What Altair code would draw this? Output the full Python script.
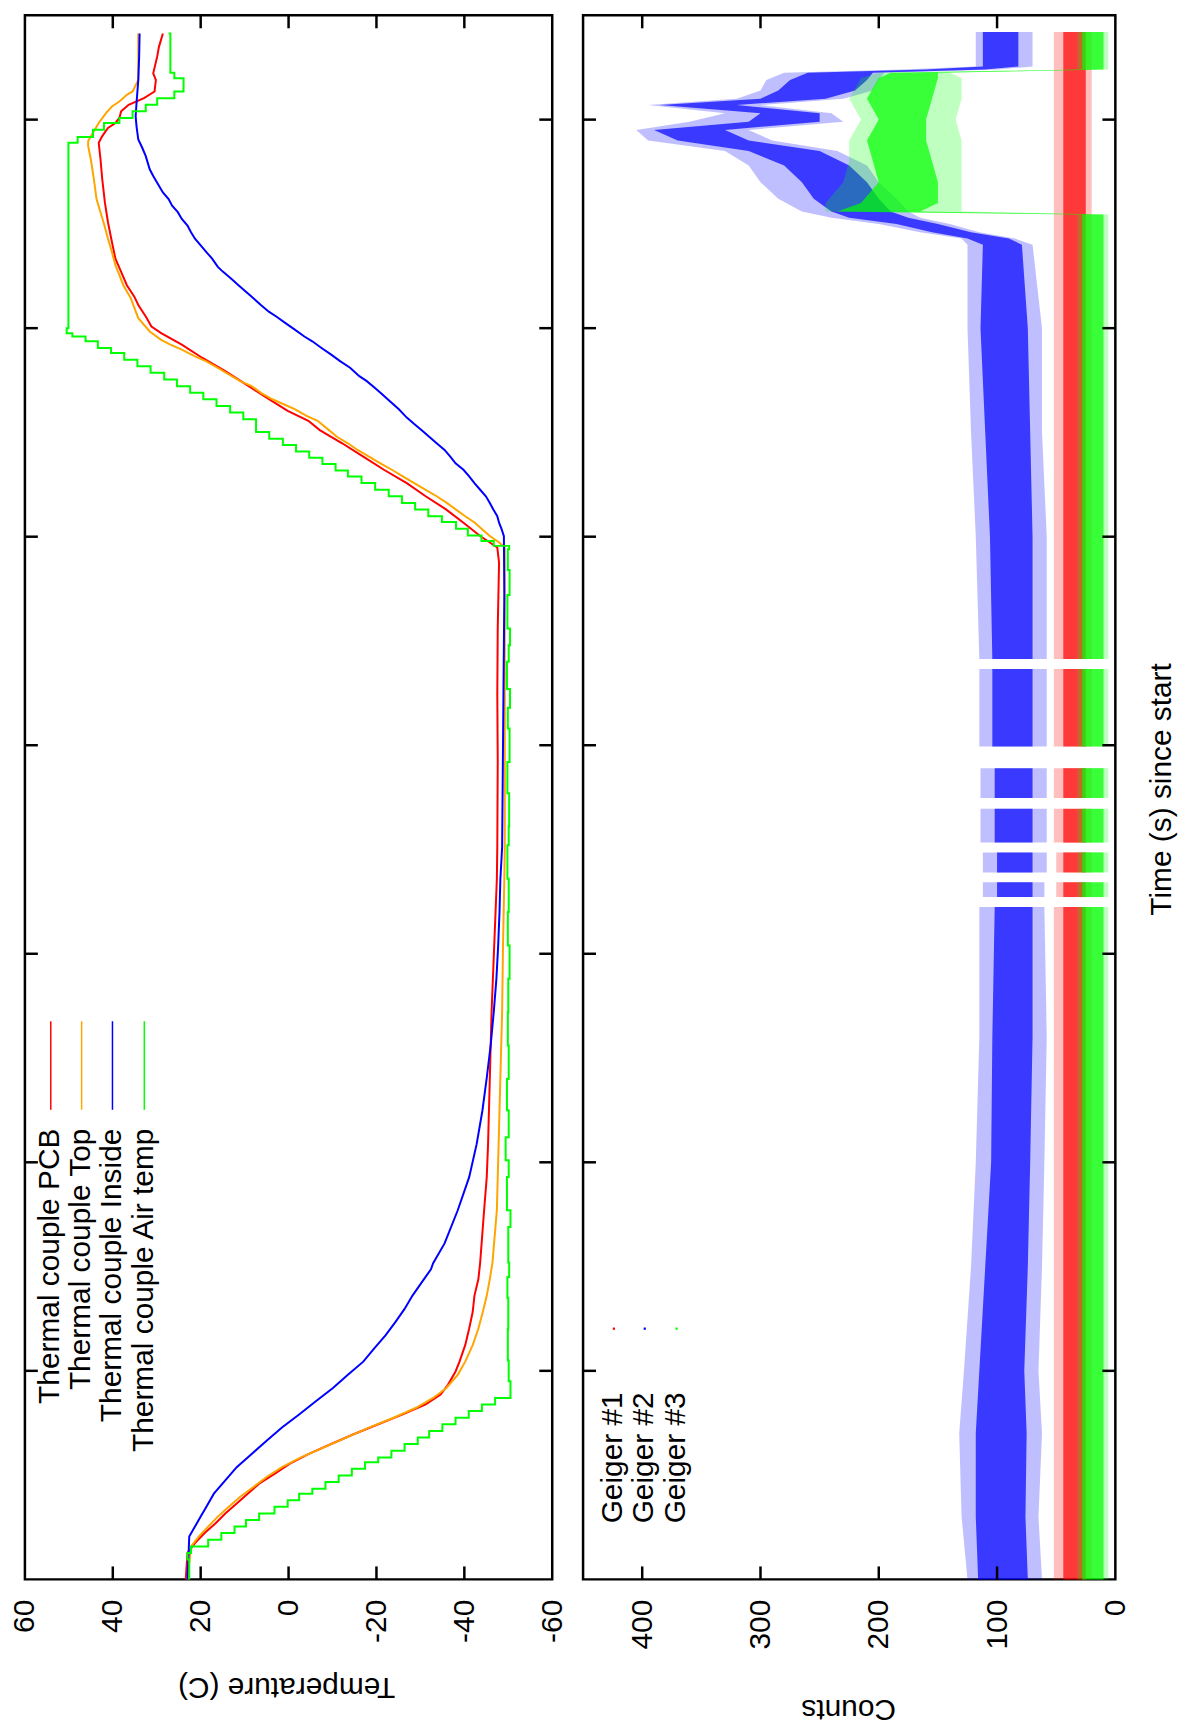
import altair as alt
import pandas as pd

# ---------------- tick values / labels ----------------
TIME_TICKS = [10000, 20000, 30000, 40000, 50000, 60000, 70000]
TEMP_TICKS = [-40, -20, 0, 20, 40]
TEMP_LABELS = [60, 40, 20, 0, -20, -40, -60]
COUNT_TICKS = [100, 200, 300, 400]
COUNT_LABELS = [400, 300, 200, 100, 0]

TEMP_NAMES = ["Thermal couple PCB", "Thermal couple Top", "Thermal couple Inside", "Thermal couple Air temp"]
TEMP_COLORS = ["#ff0000", "#ffa500", "#0000ff", "#00ff00"]
GEIGER_NAMES = ["Geiger #1", "Geiger #2", "Geiger #3"]
GEIGER_COLORS = ["#ff0000", "#0000ff", "#00ff00"]

# ---------------- temperature series (time s, deg C) ----------------
PCB = [(0, 23.4), (1270, 23.0), (1740, 21.3), (2220, 19.1), (2690, 16.6), (3160, 14.4), (3640, 11.8),
       (4110, 9.3), (4590, 6.7), (5060, 3.2), (5540, -0.2), (6010, -4.5), (6490, -9.7), (6960, -14.8),
       (7440, -20.4), (7910, -26.0), (8390, -31.2), (8860, -34.6), (9340, -36.3), (9970, -38.0),
       (10440, -38.9), (11230, -40.2), (12030, -41.1), (12820, -41.9), (13610, -42.3), (14400, -43.2),
       (15190, -43.6), (17700, -44.5), (19290, -45.1), (20870, -45.4), (24050, -45.8), (27220, -46.2),
       (30400, -46.8), (33570, -47.4), (35160, -47.5), (39240, -47.6), (42410, -47.5), (45590, -47.6),
       (48760, -47.9), (49480, -47.5), (50030, -43.6), (50670, -39.8), (51300, -35.9), (51940, -31.2),
       (52570, -26.9), (53210, -21.7), (53840, -17.0), (54480, -12.2), (55110, -7.1), (55560, -4.5),
       (56030, 0.2), (56670, 5.0), (57300, 9.7), (57940, 14.4), (58570, 19.6), (59210, 24.3),
       (59760, 29.0), (60080, 31.2), (60560, 32.5), (61110, 34.2), (61510, 35.1), (62060, 36.8),
       (62700, 38.1), (63330, 39.4), (64130, 40.2), (65080, 41.1), (66030, 41.8), (67140, 42.4),
       (68100, 42.8), (68890, 43.2), (69210, 42.4), (69600, 41.1), (69840, 39.4), (70080, 38.5),
       (70400, 38.1), (70710, 36.4), (71030, 32.9), (71350, 30.5), (71900, 30.2), (72220, 30.8),
       (73020, 29.9), (73490, 29.5), (74130, 28.6)]

TOP = [(0, 23.0), (1580, 22.2), (2060, 20.4), (2530, 18.3), (3010, 16.1), (3480, 13.6), (3960, 11.0),
       (4430, 8.0), (4910, 5.0), (5380, 1.5), (5850, -2.8), (6330, -8.0), (6800, -13.1), (7280, -18.3),
       (7750, -23.9), (8230, -29.0), (8700, -32.9), (9180, -35.9), (9810, -38.5), (10440, -40.2),
       (11230, -41.9), (12030, -43.2), (12820, -44.2), (13610, -45.1), (14400, -45.8), (15190, -46.4),
       (17700, -47.4), (20870, -47.8), (24050, -48.2), (27220, -48.6), (30400, -48.8), (33570, -49.1),
       (35160, -49.2), (42410, -49.2), (49480, -49.2), (49710, -48.0), (50030, -45.8), (50350, -44.1),
       (50670, -42.4), (50980, -40.2), (51300, -38.1), (51620, -36.0), (51940, -33.7), (52250, -31.2),
       (52570, -28.6), (52890, -26.0), (53210, -23.5), (53520, -20.9), (53840, -18.3), (54160, -15.7),
       (54480, -13.5), (54790, -11.0), (55110, -9.2), (55560, -6.6), (55790, -4.1), (56110, -1.5),
       (56350, 1.1), (56590, 3.7), (56900, 6.3), (57220, 8.4), (57460, 11.0), (57780, 13.6),
       (58100, 16.1), (58410, 18.7), (58650, 21.3), (58970, 24.3), (59210, 26.9), (59440, 29.0),
       (59840, 31.6), (60480, 34.2), (61430, 35.9), (62060, 37.6), (62540, 38.5), (63020, 39.4),
       (63650, 40.2), (64290, 41.1), (64920, 41.9), (65560, 42.8), (66190, 43.7), (67140, 44.3),
       (68100, 45.0), (68730, 45.6), (68970, 45.6), (69520, 44.1), (69840, 43.2), (70320, 41.5),
       (70630, 40.2), (70870, 38.5), (71190, 36.8), (71350, 35.5), (71900, 34.2), (74130, 34.2)]

INSIDE = [(0, 23.0), (2060, 22.6), (2530, 21.3), (3010, 20.0), (3480, 18.7), (4110, 17.0), (4750, 14.4),
          (5380, 11.8), (6010, 8.4), (6650, 5.0), (7280, 1.5), (7910, -2.4), (8540, -6.2), (9180, -10.1),
          (9810, -13.5), (10440, -17.0), (11080, -19.5), (11710, -22.1), (12340, -24.3), (12970, -26.4),
          (13610, -28.2), (14240, -30.3), (14870, -32.4), (15160, -32.9), (16110, -35.5), (17700, -38.5),
          (19290, -41.1), (20870, -42.8), (22460, -44.1), (24050, -45.1), (25630, -46.0), (27220, -46.7),
          (28810, -47.3), (30400, -47.7), (31980, -48.0), (33570, -48.2), (35110, -48.6), (42410, -48.9),
          (47170, -49.1), (50030, -49.0), (50350, -48.5), (50670, -47.9), (50980, -47.5), (51300, -46.6),
          (51620, -45.8), (51940, -44.9), (52250, -43.6), (52570, -42.3), (52890, -41.1), (53210, -39.8),
          (53520, -38.0), (53840, -36.8), (54160, -35.5), (54480, -33.7), (54790, -32.0), (55110, -30.3),
          (55400, -28.6), (55710, -26.9), (56110, -25.1), (56510, -23.0), (56830, -21.3), (57140, -19.6),
          (57460, -17.8), (57700, -16.1), (58100, -14.0), (58410, -11.8), (58730, -9.7), (59050, -7.5),
          (59370, -5.4), (59600, -3.6), (59920, -1.5), (60240, 0.7), (60560, 2.8), (60790, 4.5),
          (61110, 6.3), (61430, 8.0), (61750, 9.7), (62060, 11.4), (62380, 13.1), (62700, 14.9),
          (62940, 16.1), (63330, 17.4), (63650, 18.7), (63970, 20.0), (64290, 21.3), (64600, 22.2),
          (64920, 23.0), (65240, 24.3), (65560, 25.2), (65870, 26.5), (66190, 27.3), (66510, 28.6),
          (66830, 29.5), (67300, 30.8), (67620, 31.6), (68250, 32.5), (68650, 33.3), (69050, 34.2),
          (69680, 34.6), (70160, 34.8), (70790, 34.6), (71900, 34.2), (73020, 34.0), (74130, 33.9)]

AIR = [(0, 22.6), (950, 23.0), (1270, 22.2), (1580, 18.3), (1900, 15.3), (2220, 12.3), (2530, 9.7),
       (2850, 6.7), (3160, 3.2), (3480, 0.2), (3800, -2.4), (4110, -5.4), (4350, -8.4), (4670, -11.4),
       (4980, -14.4), (5300, -17.4), (5620, -20.4), (5850, -23.4), (6170, -26.4), (6490, -29.4),
       (6800, -32.0), (7120, -35.0), (7440, -38.0), (7750, -41.0), (8070, -44.0), (8390, -47.0),
       (8700, -50.5), (9500, -50.1), (10500, -49.9), (12000, -50.0), (13500, -49.8), (14500, -50.2),
       (15200, -50.0), (16900, -50.5), (17700, -49.7), (19300, -50.1), (20100, -49.4), (21200, -50.1),
       (22500, -49.7), (24000, -50.1), (25600, -49.9), (27200, -50.0), (28800, -50.3), (30400, -49.9),
       (32000, -50.1), (33600, -49.8), (35200, -50.1), (36100, -50.2), (37700, -49.8), (39200, -50.3),
       (40800, -49.9), (41800, -50.4), (42700, -49.7), (44000, -50.1), (44800, -50.4), (45600, -49.8),
       (47200, -50.3), (48400, -49.9), (49400, -50.2), (49560, -46.7), (49790, -43.9), (50060, -40.8),
       (50380, -38.1), (50700, -34.9), (50980, -31.8), (51300, -28.8), (51620, -25.8), (51940, -22.8),
       (52250, -19.7), (52570, -16.6), (52890, -13.5), (53170, -10.7), (53490, -7.7), (53790, -4.7),
       (54080, -1.7), (54400, 1.3), (54700, 4.4), (55020, 7.4), (55630, 10.3), (55950, 13.3),
       (56270, 16.4), (56590, 19.4), (56900, 22.4), (57220, 25.4), (57540, 28.3), (57860, 31.4),
       (58170, 34.4), (58490, 37.4), (58810, 40.4), (59050, 43.4), (59370, 46.2), (59600, 49.2),
       (59760, 50.5), (60000, 50.1), (68890, 48.0), (69170, 44.5), (69520, 42.0), (69840, 38.5),
       (70080, 35.5), (70400, 32.5), (70710, 29.9), (71030, 26.0), (71350, 23.9), (71980, 26.0),
       (72250, 26.9), (74130, 27.3)]

# ---------------- Geiger count clouds, read as envelopes ----------------
# (segment, time s, outer low, outer high, dense low, dense high)
RED_BAND = [(1, 0, 20, 52, 25, 44), (1, 32240, 20, 52, 25, 44),
            (2, 32720, 20, 50, 25, 44), (2, 33430, 20, 50, 25, 44),
            (3, 33900, 20, 50, 25, 44), (3, 34860, 20, 50, 25, 44),
            (4, 35330, 20, 52, 25, 44), (4, 36950, 20, 52, 25, 44),
            (5, 37470, 20, 52, 25, 44), (5, 38900, 20, 52, 25, 44),
            (6, 39940, 20, 52, 25, 44), (6, 43650, 20, 52, 25, 44),
            (7, 44130, 20, 52, 25, 44), (7, 74200, 20, 52, 25, 44)]

BLUE_BAND = [(1, 0, 62, 125, 74, 116), (1, 3000, 65, 130, 76, 118), (1, 7000, 62, 132, 75, 118),
             (1, 10000, 65, 128, 77, 115), (1, 15000, 62, 122, 74, 110), (1, 20000, 60, 118, 72, 105),
             (1, 26000, 58, 115, 70, 104), (1, 32240, 60, 115, 70, 102),
             (2, 32720, 60, 112, 70, 100), (2, 33430, 60, 112, 70, 100),
             (3, 33900, 58, 112, 70, 100), (3, 34860, 58, 112, 70, 100),
             (4, 35330, 58, 114, 70, 102), (4, 36950, 58, 114, 70, 102),
             (5, 37470, 58, 114, 70, 102), (5, 38900, 58, 114, 70, 102),
             (6, 39940, 58, 115, 70, 104), (6, 43650, 58, 115, 70, 104),
             (7, 44130, 58, 115, 70, 104), (7, 50000, 58, 118, 70, 106), (7, 55000, 62, 122, 72, 110),
             (7, 60000, 62, 125, 74, 114), (7, 64000, 70, 125, 79, 112), (7, 64300, 85, 130, 90, 125),
             (7, 64600, 115, 165, 122, 155), (7, 65000, 140, 200, 150, 185), (7, 65300, 165, 240, 175, 225),
             (7, 65600, 175, 265, 190, 240), (7, 66200, 185, 285, 200, 255), (7, 67000, 200, 300, 210, 265),
             (7, 67800, 210, 310, 225, 280), (7, 68500, 235, 330, 250, 310), (7, 69000, 290, 395, 310, 370),
             (7, 69500, 310, 405, 330, 390), (7, 69900, 230, 360, 250, 310), (7, 70300, 240, 330, 250, 300),
             (7, 70700, 300, 395, 320, 385), (7, 71000, 230, 320, 245, 300), (7, 71400, 205, 300, 220, 285),
             (7, 71900, 200, 295, 210, 275), (7, 72250, 195, 280, 205, 260), (7, 72400, 100, 180, 110, 160),
             (7, 72550, 70, 118, 82, 112), (7, 74200, 70, 118, 82, 112)]

GREEN_BAND = [(1, 0, 6, 32, 10, 28), (1, 32240, 6, 32, 10, 28),
              (2, 32720, 6, 32, 10, 28), (2, 33430, 6, 32, 10, 28),
              (3, 33900, 6, 32, 10, 28), (3, 34860, 6, 32, 10, 28),
              (4, 35330, 6, 32, 10, 28), (4, 36950, 6, 32, 10, 28),
              (5, 37470, 6, 32, 10, 28), (5, 38900, 6, 32, 10, 28),
              (6, 39940, 6, 32, 10, 28), (6, 43650, 6, 32, 10, 28),
              (7, 44130, 6, 32, 10, 28), (7, 65450, 6, 32, 10, 28), (7, 65600, 130, 245, 165, 235),
              (7, 66000, 130, 245, 150, 215), (7, 67000, 130, 230, 150, 200), (7, 68000, 130, 225, 155, 205),
              (7, 69000, 130, 225, 160, 210), (7, 70000, 135, 215, 160, 200), (7, 71000, 130, 225, 155, 210),
              (7, 72000, 130, 215, 150, 200), (7, 72250, 140, 200, 150, 190), (7, 72400, 6, 32, 10, 28),
              (7, 74200, 6, 32, 10, 28)]

# ---------------- layout ----------------
W1, W2, H = 530, 535, 1572
TICK = 13
FONT = "Liberation Sans"
FS = 30
ONE = alt.Data(values=[{"k": 0}])

tscale = alt.Scale(domain=[0, 75000], nice=False, zero=False)
temp_scale = alt.Scale(domain=[-60, 60], reverse=True, nice=False, zero=False)
cnt_scale = alt.Scale(domain=[0, 450], reverse=True, nice=False)


def x_axis(values):
    return alt.Axis(values=values, labelAngle=270, labelAlign="right", labelBaseline="middle",
                    labelPadding=20, ticks=False, domain=False, grid=False, title=None,
                    labelFont=FONT, labelFontSize=FS, labelColor="black", labelFlush=False,
                    labelOverlap=False, labelExpr="'' + datum.value")


TEMP_AXIS = x_axis(TEMP_LABELS)
CNT_AXIS = x_axis(COUNT_LABELS)
Y_T = alt.Y("t:Q", scale=tscale, axis=None)


def series_df(pts):
    return pd.DataFrame({"t": [p[0] for p in pts], "v": [p[1] for p in pts]})


def temp_line(pts, color, interp="linear"):
    return alt.Chart(series_df(pts)).mark_line(color=color, strokeWidth=2, interpolate=interp).encode(
        x=alt.X("v:Q", scale=temp_scale, axis=TEMP_AXIS), y=Y_T, order="t:Q")


def time_ticks(W):
    d = pd.DataFrame({"t": TIME_TICKS})
    a = alt.Chart(d).mark_rule(color="black", strokeWidth=2.5).encode(
        y=Y_T, x=alt.value(0), x2=alt.value(TICK))
    b = alt.Chart(d).mark_rule(color="black", strokeWidth=2.5).encode(
        y=Y_T, x=alt.value(W - TICK), x2=alt.value(W))
    return [a, b]


def value_ticks(vals, field, scale, axis):
    d = pd.DataFrame({field: vals})
    enc_x = alt.X(f"{field}:Q", scale=scale, axis=axis)
    a = alt.Chart(d).mark_rule(color="black", strokeWidth=2.5).encode(
        x=enc_x, y=alt.value(H - TICK), y2=alt.value(H))
    b = alt.Chart(d).mark_rule(color="black", strokeWidth=2.5).encode(
        x=enc_x, y=alt.value(0), y2=alt.value(TICK))
    return [a, b]


def label(text, x, y, angle, align="center"):
    return alt.Chart(ONE).mark_text(text=text, angle=angle, align=align, baseline="middle",
                                    font=FONT, fontSize=FS, color="black").encode(
        x=alt.value(x), y=alt.value(y))


# ---------------- left panel: temperatures ----------------
left_layers = [
    temp_line(PCB, TEMP_COLORS[0]),
    temp_line(TOP, TEMP_COLORS[1]),
    temp_line(INSIDE, TEMP_COLORS[2]),
    temp_line(AIR, TEMP_COLORS[3], "step-before"),
]
left_layers += time_ticks(W1)
left_layers += value_ticks(TEMP_TICKS, "v", temp_scale, TEMP_AXIS)

LEG_X = [25.5, 56.5, 87.5, 119.5]
for name, color, lx in zip(TEMP_NAMES, TEMP_COLORS, LEG_X):
    left_layers.append(alt.Chart(ONE).mark_rule(color=color, strokeWidth=1.5).encode(
        x=alt.value(lx + 0.5), y=alt.value(1011), y2=alt.value(1100)))
    left_layers.append(label(name, lx, 1119, 270, "right"))
left_layers.append(label("Temperature (C)", 263, 1680, 180))

left = alt.layer(*left_layers).properties(width=W1, height=H)


# ---------------- right panel: Geiger counts ----------------
def band_layers(rows, color):
    d = pd.DataFrame(rows, columns=["seg", "t", "lo", "hi", "clo", "chi"])
    outer = alt.Chart(d).mark_area(orient="horizontal", color=color, opacity=0.25).encode(
        y=Y_T, x=alt.X("lo:Q", scale=cnt_scale, axis=CNT_AXIS), x2="hi:Q", detail="seg:N")
    core = alt.Chart(d).mark_area(orient="horizontal", color=color, opacity=0.7).encode(
        y=Y_T, x=alt.X("clo:Q", scale=cnt_scale, axis=CNT_AXIS), x2="chi:Q", detail="seg:N")
    return [outer, core]


right_layers = []
right_layers += band_layers(RED_BAND, GEIGER_COLORS[0])
right_layers += band_layers(BLUE_BAND, GEIGER_COLORS[1])
right_layers += band_layers(GREEN_BAND, GEIGER_COLORS[2])
right_layers += time_ticks(W2)
right_layers += value_ticks(COUNT_TICKS, "lo", cnt_scale, CNT_AXIS)

GLEG_X = [30, 61, 93]
for name, color, lx in zip(GEIGER_NAMES, GEIGER_COLORS, GLEG_X):
    right_layers.append(alt.Chart(ONE).mark_point(shape="square", filled=True, size=5, color=color,
                                                  opacity=1).encode(x=alt.value(lx + 1), y=alt.value(1320)))
    right_layers.append(label(name, lx, 1384, 270, "right"))
right_layers.append(label("Counts", 267, 1702, 180))
right_layers.append(label("Time (s) since start", 582, 778, 270))

right = alt.layer(*right_layers).properties(width=W2, height=H)

chart = alt.hconcat(left, right, spacing=31, bounds="flush").properties(
    padding={"left": 0, "top": 0, "right": 5, "bottom": 0},
    background="white",
).configure_view(stroke="black", strokeWidth=2.5, fill="white")

chart.save("out.html", embed_options={"renderer": "svg", "actions": False})
